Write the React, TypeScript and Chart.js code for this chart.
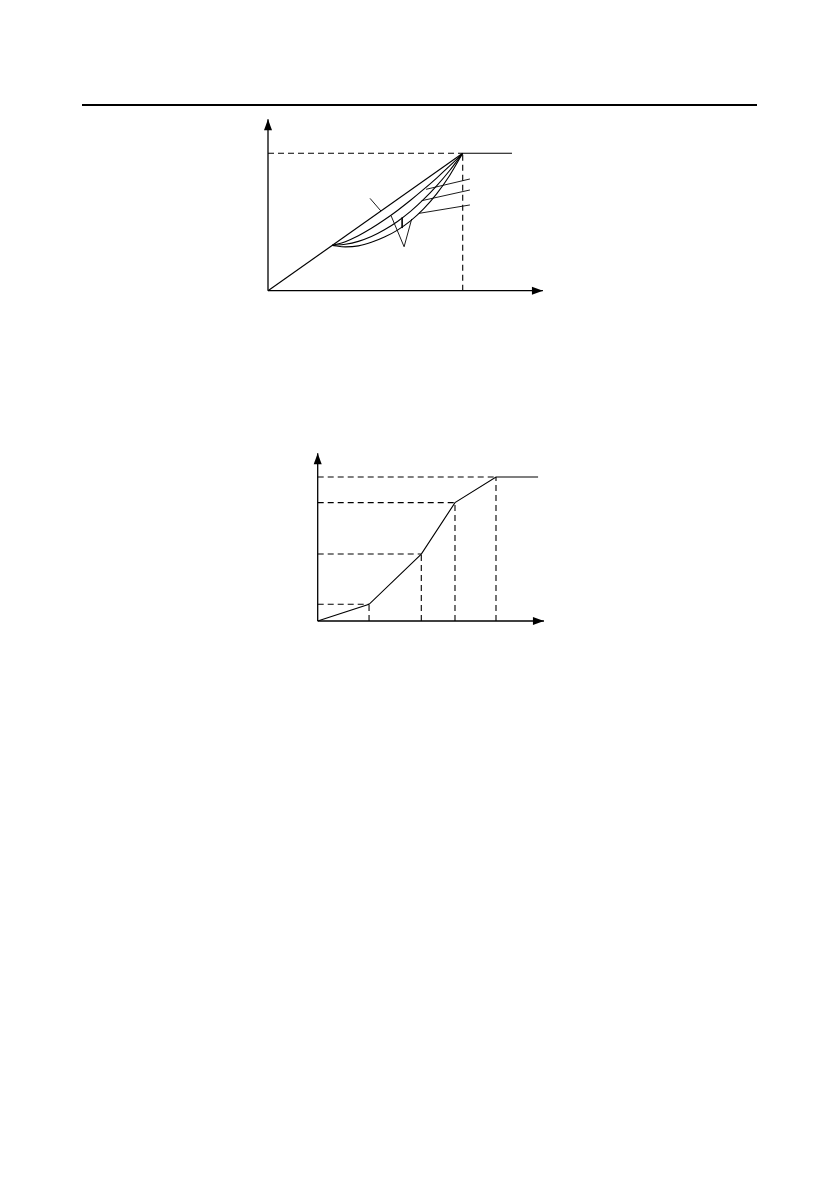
import React, { useEffect, useRef } from 'react';
import { Chart, registerables } from 'chart.js';

Chart.register(...registerables);

type Pt = { x: number; y: number };

// upper diagram: frequency / voltage in % of base values
const TOP_X = [33, 39.7, 46.4, 53.1, 59.8, 66.5, 73.2, 79.9, 86.6, 93.3, 100];
const CURVE_2 = [33, 35.7, 40.0, 45.4, 51.6, 58.4, 65.8, 73.7, 82.0, 90.8, 100];
const CURVE_3 = [33, 33.8, 35.9, 39.4, 44.3, 50.4, 57.7, 66.4, 76.3, 87.5, 100];
const CURVE_4 = [33, 31.9, 32.6, 35.2, 39.0, 44.1, 50.8, 59.5, 70.5, 83.9, 100];
const TOP_RATED = 100;
const TOP_LIMIT_END = 125.3;
const TOP_X_TIP = 141.2;
const TOP_Y_TIP = 124.7;
const TOP_LEADERS: number[][][] = [
    [[52.4, 67.2], [58, 58]],
    [[103.7, 81.3], [81.2, 73.8]],
    [[103.7, 73.3], [78.9, 65.5]],
    [[103.7, 62.4], [77.6, 56.3]],
    [[63.2, 54.6], [69.9, 32.0], [73.8, 52.2]],
    [[68.9, 53.3], [68.9, 45.6]],
];

// lower diagram: multi-point V/F
const BREAK_F = [0, 28.8, 58.1, 77.0, 100];
const BREAK_V = [0, 11.6, 46.5, 82.2, 100];
const BOT_LIMIT_END = 123.6;
const BOT_X_TIP = 126.9;
const BOT_Y_TIP = 116.5;

const DASH = [6, 4];

const seg = (pts: number[][], dashed = false, width = 1.1) => ({
    data: pts.map(([x, y]) => ({ x, y })) as Pt[],
    showLine: true,
    borderColor: '#000',
    borderWidth: width,
    borderDash: dashed ? DASH : [],
    pointRadius: 0,
    fill: false,
    tension: 0,
});

const curve = (xs: number[], ys: number[]) => ({
    ...seg(xs.map((x, i) => [x, ys[i]])),
    cubicInterpolationMode: 'monotone' as const,
});

const arrowPlugin = {
    id: 'axisArrows',
    afterDatasetsDraw(chart: any, _args: any, opts: any) {
        const { ctx, scales } = chart;
        const x0 = scales.x.getPixelForValue(0);
        const y0 = scales.y.getPixelForValue(0);
        const xt = scales.x.getPixelForValue(opts.xTip);
        const yt = scales.y.getPixelForValue(opts.yTip);
        ctx.save();
        ctx.fillStyle = '#000';
        ctx.beginPath();
        ctx.moveTo(xt, y0);
        ctx.lineTo(xt - 11, y0 - 4);
        ctx.lineTo(xt - 11, y0 + 4);
        ctx.closePath();
        ctx.fill();
        ctx.beginPath();
        ctx.moveTo(x0, yt);
        ctx.lineTo(x0 - 4, yt + 11);
        ctx.lineTo(x0 + 4, yt + 11);
        ctx.closePath();
        ctx.fill();
        ctx.restore();
    },
};

type Props = {
    datasets: any[];
    xRange: [number, number];
    yRange: [number, number];
    tips: { xTip: number; yTip: number };
    left: number;
    top: number;
    width: number;
    height: number;
};

const Diagram: React.FC<Props> = ({ datasets, xRange, yRange, tips, left, top, width, height }) => {
    const canvasRef = useRef<HTMLCanvasElement | null>(null);

    useEffect(() => {
        const canvas = canvasRef.current;
        if (!canvas) return;
        const chart = new Chart(canvas, {
            type: 'scatter',
            data: { datasets },
            options: {
                responsive: false,
                animation: false,
                layout: { padding: 0 },
                events: [],
                scales: {
                    x: { type: 'linear', display: false, min: xRange[0], max: xRange[1] },
                    y: { type: 'linear', display: false, min: yRange[0], max: yRange[1] },
                },
                plugins: {
                    legend: { display: false },
                    tooltip: { enabled: false },
                    axisArrows: tips,
                } as any,
            },
            plugins: [arrowPlugin],
        });
        return () => chart.destroy();
    }, []);

    return (
        <canvas
            ref={canvasRef}
            width={width}
            height={height}
            style={{ position: 'absolute', left, top, width, height }}
        />
    );
};

export default function App() {
    const topSets = [
        seg([[0, 0], [TOP_X_TIP, 0]], false, 1.3),
        seg([[0, 0], [0, TOP_Y_TIP]], false, 1.3),
        seg([[0, TOP_RATED], [TOP_RATED, TOP_RATED]], true),
        seg([[TOP_RATED, 0], [TOP_RATED, TOP_RATED]], true),
        seg([[TOP_RATED, TOP_RATED], [TOP_LIMIT_END, TOP_RATED]]),
        seg([[0, 0], [TOP_RATED, TOP_RATED]]),
        curve(TOP_X, CURVE_2),
        curve(TOP_X, CURVE_3),
        curve(TOP_X, CURVE_4),
        ...TOP_LEADERS.map((l) => seg(l, false, 0.9)),
    ];

    const n = BREAK_F.length;
    const botSets = [
        seg([[0, 0], [BOT_X_TIP, 0]], false, 1.3),
        seg([[0, 0], [0, BOT_Y_TIP]], false, 1.3),
        ...BREAK_F.slice(1).map((f, i) => seg([[0, BREAK_V[i + 1]], [f, BREAK_V[i + 1]]], true)),
        ...BREAK_F.slice(1).map((f, i) => seg([[f, 0], [f, BREAK_V[i + 1]]], true)),
        seg([
            ...BREAK_F.map((f, i) => [f, BREAK_V[i]]),
            [BOT_LIMIT_END, BREAK_V[n - 1]],
        ]),
    ];

    return (
        <div style={{ position: 'absolute', left: 0, top: 0, width: 839, height: 1191, background: '#fff' }}>
            <div style={{ position: 'absolute', left: 82, top: 104, width: 675, height: 2, background: '#000' }} />
            <Diagram
                datasets={topSets}
                xRange={[-5.136, 144.83]}
                yRange={[-5.31, 130.06]}
                tips={{ xTip: TOP_X_TIP, yTip: TOP_Y_TIP }}
                left={258}
                top={112}
                width={292}
                height={186}
            />
            <Diagram
                datasets={botSets}
                xRange={[-5.44, 131.97]}
                yRange={[-6.25, 122.22]}
                tips={{ xTip: BOT_X_TIP, yTip: BOT_Y_TIP }}
                left={308}
                top={445}
                width={245}
                height={185}
            />
        </div>
    );
}
